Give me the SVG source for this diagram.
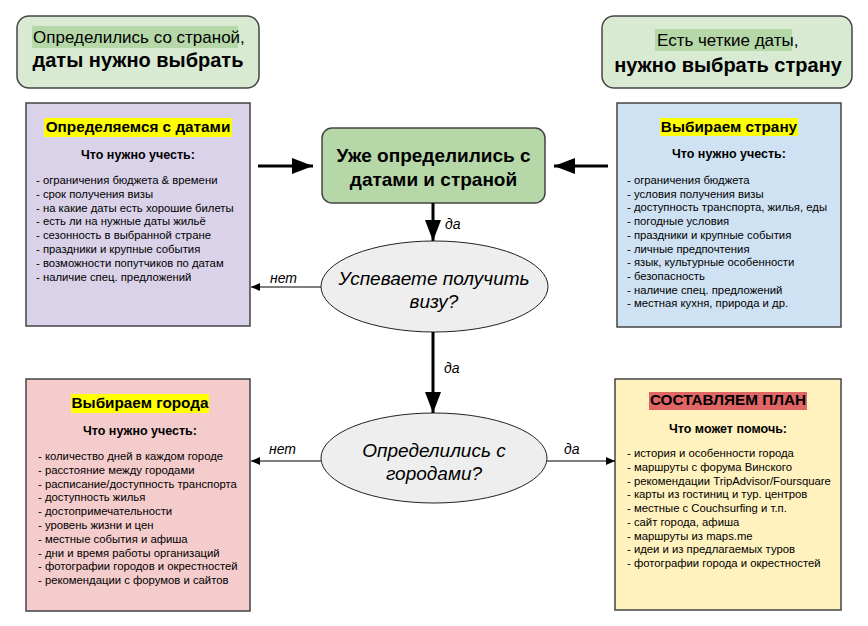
<svg xmlns="http://www.w3.org/2000/svg" width="868" height="626" viewBox="0 0 868 626">
<defs>
<style>
text{font-family:"Liberation Sans",Arial,sans-serif;fill:#000}
.box{stroke:#444;stroke-width:1.5}
.t1{font-size:17px}
.t2{font-size:20px;font-weight:bold}
.ttl{font-size:15.3px;font-weight:bold;text-anchor:middle}
.sub{font-size:12.5px;font-weight:bold;text-anchor:middle}
.li{font-size:11.3px}
.q{font-size:19px;font-style:italic;text-anchor:middle}
.lbl{font-size:14px;font-style:italic}
.thick{stroke:#000;stroke-width:3;fill:none}
.thin{stroke:#000;stroke-width:1;fill:none}
</style>
<marker id="big" markerUnits="userSpaceOnUse" markerWidth="22" markerHeight="16" refX="21" refY="8" orient="auto">
<path d="M0,0 L21,8 L0,16 Z" fill="#000"/>
</marker>
<marker id="small" markerUnits="userSpaceOnUse" markerWidth="10" markerHeight="8" refX="9" refY="4" orient="auto">
<path d="M0,0 L9,4 L0,8 Z" fill="#000"/>
</marker>
</defs>
<rect width="868" height="626" fill="#fff"/>

<g id="note-left">
<rect class="box" x="17" y="16" width="242" height="72" rx="12" fill="#d9ead3"/>
<rect x="32" y="26" width="206" height="22" fill="#b6d7a8"/>
<text class="t1" x="33" y="43">Определились со страной,</text>
<text class="t2" x="138" y="67" text-anchor="middle">даты нужно выбрать</text>
</g>

<g id="note-right">
<rect class="box" x="602" y="16" width="250" height="72" rx="12" fill="#d9ead3"/>
<rect x="655" y="29" width="137" height="22" fill="#b6d7a8"/>
<text class="t1" x="657" y="46">Есть четкие даты,</text>
<text class="t2" x="728" y="72" text-anchor="middle">нужно выбрать страну</text>
</g>

<g id="dates">
<rect class="box" x="26" y="103" width="224" height="223" fill="#d9d2e9"/>
<rect x="44" y="118" width="188" height="19" fill="#ffff00"/>
<text class="ttl" x="138" y="132">Определяемся с датами</text>
<text class="sub" x="138" y="159">Что нужно учесть:</text>
<text class="li" x="36" y="184">- ограничения бюджета &amp; времени</text>
<text class="li" x="36" y="197.8">- срок получения визы</text>
<text class="li" x="36" y="211.6">- на какие даты есть хорошие билеты</text>
<text class="li" x="36" y="225.4">- есть ли на нужные даты жильё</text>
<text class="li" x="36" y="239.2">- сезонность в выбранной стране</text>
<text class="li" x="36" y="253">- праздники и крупные события</text>
<text class="li" x="36" y="266.8">- возможности попутчиков по датам</text>
<text class="li" x="36" y="280.6">- наличие спец. предложений</text>
</g>

<g id="country">
<rect class="box" x="617" y="103" width="224" height="224" fill="#cfe2f3"/>
<rect x="660" y="118" width="138" height="18" fill="#ffff00"/>
<text class="ttl" x="729" y="132">Выбираем страну</text>
<text class="sub" x="729" y="158">Что нужно учесть:</text>
<text class="li" x="627" y="184">- ограничения бюджета</text>
<text class="li" x="627" y="197.7">- условия получения визы</text>
<text class="li" x="627" y="211.4">- доступность транспорта, жилья, еды</text>
<text class="li" x="627" y="225.1">- погодные условия</text>
<text class="li" x="627" y="238.8">- праздники и крупные события</text>
<text class="li" x="627" y="252.5">- личные предпочтения</text>
<text class="li" x="627" y="266.2">- язык, культурные особенности</text>
<text class="li" x="627" y="279.9">- безопасность</text>
<text class="li" x="627" y="293.6">- наличие спец. предложений</text>
<text class="li" x="627" y="307.3">- местная кухня, природа и др.</text>
</g>

<g id="start">
<rect class="box" x="322" y="128" width="223" height="75" rx="10" fill="#b6d7a8"/>
<text class="t2" x="433.5" y="162" text-anchor="middle" style="font-size:19px">Уже определились с</text>
<text class="t2" x="433.5" y="186" text-anchor="middle" style="font-size:19px">датами и страной</text>
</g>

<g id="visa">
<ellipse class="box" cx="434.5" cy="286.5" rx="113.5" ry="45.5" fill="#eeeeee" style="stroke:#222;stroke-width:1"/>
<text class="q" x="434" y="285">Успеваете получить</text>
<text class="q" x="434" y="308">визу?</text>
</g>

<g id="cities-q">
<ellipse class="box" cx="434" cy="458" rx="113" ry="45" fill="#eeeeee" style="stroke:#222;stroke-width:1"/>
<text class="q" x="434" y="457">Определились с</text>
<text class="q" x="434" y="480">городами?</text>
</g>

<g id="cities">
<rect class="box" x="26" y="379" width="224" height="232" fill="#f4cccc"/>
<rect x="71" y="394" width="138" height="19" fill="#ffff00"/>
<text class="ttl" x="140" y="408">Выбираем города</text>
<text class="sub" x="140" y="435">Что нужно учесть:</text>
<text class="li" x="38" y="460">- количество дней в каждом городе</text>
<text class="li" x="38" y="473.8">- расстояние между городами</text>
<text class="li" x="38" y="487.6">- расписание/доступность транспорта</text>
<text class="li" x="38" y="501.4">- доступность жилья</text>
<text class="li" x="38" y="515.2">- достопримечательности</text>
<text class="li" x="38" y="529">- уровень жизни и цен</text>
<text class="li" x="38" y="542.8">- местные события и афиша</text>
<text class="li" x="38" y="556.6">- дни и время работы организаций</text>
<text class="li" x="38" y="570.4">- фотографии городов и окрестностей</text>
<text class="li" x="38" y="584.2">- рекомендации с форумов и сайтов</text>
</g>

<g id="plan">
<rect class="box" x="615" y="379" width="226" height="231" fill="#fff2bf"/>
<rect x="649" y="392" width="158" height="18" fill="#e06666"/>
<text class="ttl" x="728" y="405">СОСТАВЛЯЕМ ПЛАН</text>
<text class="sub" x="728" y="433">Что может помочь:</text>
<text class="li" x="627" y="457">- история и особенности города</text>
<text class="li" x="627" y="470.75">- маршруты с форума Винского</text>
<text class="li" x="627" y="484.5">- рекомендации TripAdvisor/Foursquare</text>
<text class="li" x="627" y="498.25">- карты из гостиниц и тур. центров</text>
<text class="li" x="627" y="512">- местные с Couchsurfing и т.п.</text>
<text class="li" x="627" y="525.75">- сайт города, афиша</text>
<text class="li" x="627" y="539.5">- маршруты из maps.me</text>
<text class="li" x="627" y="553.25">- идеи и из предлагаемых туров</text>
<text class="li" x="627" y="567">- фотографии города и окрестностей</text>
</g>

<g id="connectors">
<line class="thick" x1="258" y1="166" x2="313" y2="166" marker-end="url(#big)"/>
<line class="thick" x1="608" y1="166" x2="554" y2="166" marker-end="url(#big)"/>
<line class="thick" x1="433" y1="203" x2="433" y2="241" marker-end="url(#big)"/>
<line class="thick" x1="433" y1="332" x2="433" y2="413" marker-end="url(#big)"/>
<line class="thin" x1="321" y1="287" x2="251" y2="287" marker-end="url(#small)"/>
<line class="thin" x1="321" y1="461" x2="251" y2="461" marker-end="url(#small)"/>
<line class="thin" x1="547" y1="461" x2="615" y2="461" marker-end="url(#small)"/>
<text class="lbl" x="445" y="229">да</text>
<text class="lbl" x="270" y="283">нет</text>
<text class="lbl" x="444" y="373">да</text>
<text class="lbl" x="269" y="454">нет</text>
<text class="lbl" x="564" y="454">да</text>
</g>
</svg>
